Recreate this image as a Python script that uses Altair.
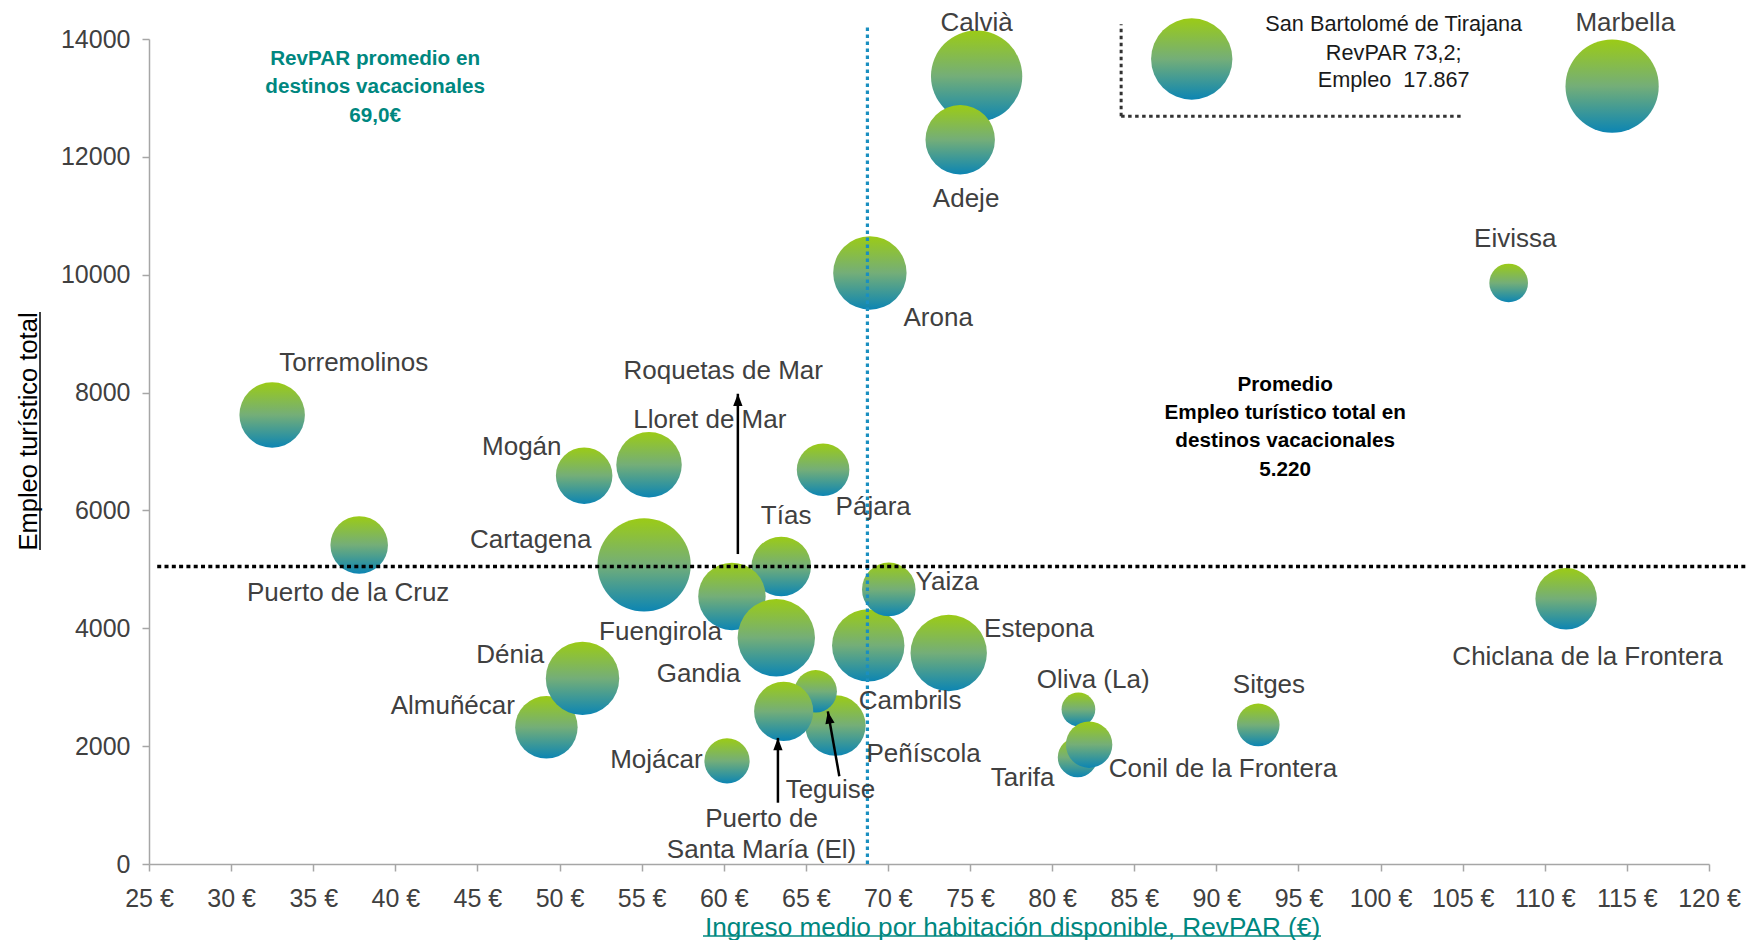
import altair as alt
import pandas as pd

# ---------------- datos ----------------
nombres = ["San Bartolomé de Tirajana", "Marbella", "Calvià", "Adeje", "Arona", "Eivissa",
           "Torremolinos", "Puerto de la Cruz", "Mogán", "Lloret de Mar", "Fuengirola",
           "Cartagena", "Tías", "Roquetas de Mar", "Gandia", "Pájara", "Cambrils", "Yaiza",
           "Estepona", "Peñíscola", "Teguise", "Puerto de\nSanta María (El)", "Mojácar",
           "Almuñécar", "Dénia", "Tarifa", "Oliva (La)", "Conil de la Frontera", "Sitges",
           "Chiclana de la Frontera"]
revpar = [88.5, 114.1, 75.4, 74.4, 68.9, 107.8,
          32.5, 37.8, 51.5, 55.45, 55.2,
          55.15, 63.5, 60.5, 63.2, 66.05, 68.8, 70.05,
          73.7, 66.8, 65.6, 63.65, 60.2,
          49.2, 51.4, 81.55, 81.6, 82.25, 92.55,
          111.3]
empleo = [13660, 13200, 13370, 12290, 10030, 9860,
          7620, 5415, 6590, 6775, 4950,
          5075, 5050, 4540, 3840, 6690, 3710, 4660,
          3580, 2350, 2930, 2590, 1750,
          2320, 3150, 1810, 2625, 2025, 2360,
          4500]
tamano = [16810, 22090, 21160, 12250, 13690, 3800,
          10890, 8410, 8120, 10890, 14000,
          22090, 9000, 11560, 15210, 7020, 13320, 7290,
          14820, 9300, 4580, 8880, 5200,
          9920, 13690, 4000, 2890, 5480, 4620,
          9610]

# posiciones de las etiquetas (en unidades de los ejes)
etiqueta_x = [None, 114.9, 75.4, 74.76, 73.06, 108.2,
              37.47, 37.13, 47.7, 59.15, 56.15,
              48.25, 63.8, 59.97, 58.47, 69.1, 71.35, 73.6,
              79.2, 72.17, 66.5, 62.3, 55.9,
              43.5, 47.0, 78.2, 82.5, 90.4, 93.2,
              112.6]
etiqueta_y = [None, 14265, 14265, 11280, 9270, 10600,
              8510, 4600, 7070, 7540, 3930,
              5490, 5910, 8360, 3230, 6060, 2770, 4790,
              3990, 1860, 1250, 760, 1770,
              2680, 3550, 1460, 3130, 1610, 3040,
              3510]

# flechas (origen -> punta)
flecha_x1 = [60.86, 63.3, 67.04]
flecha_y1 = [5260, 1040, 1490]
flecha_x2 = [60.86, 63.3, 66.34]
flecha_y2 = [7980, 2140, 2590]
flecha_ang = [0, 0, 350]

# líneas de referencia
promedio_empleo_linea = 5050
promedio_revpar_linea = 68.75

# anotaciones
revpar_texto = ["RevPAR promedio en", "destinos vacacionales", "69,0€"]
revpar_texto_y = [13660, 13180, 12690]
promedio_texto = ["Promedio", "Empleo turístico total en", "destinos vacacionales", "5.220"]
promedio_texto_y = [8130, 7660, 7180, 6690]
sbt_texto = ["San Bartolomé de Tirajana", "RevPAR 73,2;", "Empleo\u00a0 17.867"]
sbt_texto_y = [14250, 13770, 13300]

x_ticks = list(range(25, 121, 5))

# ---------------- tablas ----------------
burbujas = pd.DataFrame({"nombre": nombres, "revpar": revpar, "empleo": empleo, "tamano": tamano})
etiquetas = pd.DataFrame({"nombre": nombres[1:], "x": etiqueta_x[1:], "y": etiqueta_y[1:]})
flechas = pd.DataFrame({"x": flecha_x1, "y": flecha_y1, "x2": flecha_x2, "y2": flecha_y2, "ang": flecha_ang})
t_revpar = pd.DataFrame({"t": revpar_texto, "x": [38.77] * 3, "y": revpar_texto_y})
t_prom = pd.DataFrame({"t": promedio_texto, "x": [94.19] * 4, "y": promedio_texto_y})
t_sbt = pd.DataFrame({"t": sbt_texto, "x": [100.8] * 3, "y": sbt_texto_y})
lin_h = pd.DataFrame({"x": [25.5], "x2": [122.3], "y": [promedio_empleo_linea]})
lin_v = pd.DataFrame({"x": [promedio_revpar_linea], "y": [0], "y2": [14250]})
caja = pd.DataFrame({"x": [84.2, 84.2], "x2": [84.2, 104.9], "y": [12690, 12690], "y2": [14250, 12690]})

FONT = "Liberation Sans"
XT = "Ingreso medio por habitación disponible, RevPAR (€)"
YT = "Empleo turístico total"

x_scale = alt.Scale(domain=[25, 120], nice=False, zero=False)
y_scale = alt.Scale(domain=[0, 14000], nice=False, zero=False)

x_axis = alt.Axis(values=x_ticks, labelExpr="datum.value + ' €'", grid=False,
                  labelFont=FONT, labelFontSize=25, labelColor="#404040",
                  domainColor="#A6A6A6", tickColor="#A6A6A6", domainWidth=1.5, tickWidth=1.5,
                  tickSize=7, labelPadding=15, labelFlush=False, labelOverlap=False,
                  titleFont=FONT, titleFontSize=26.2, titleFontWeight="normal", titleColor="#00877F",
                  titleX=863, titleY=63, titleBaseline="middle", titleAnchor="middle")
y_axis = alt.Axis(values=list(range(0, 14001, 2000)), format="d", grid=False,
                  labelFont=FONT, labelFontSize=25, labelColor="#404040",
                  domainColor="#A6A6A6", tickColor="#A6A6A6", domainWidth=1.5, tickWidth=1.5,
                  tickSize=7, labelPadding=12, labelFlush=False,
                  titleFont=FONT, titleFontSize=25.5, titleFontWeight="normal", titleColor="#000000",
                  titleX=-121, titleY=392, titleBaseline="middle", titleAngle=270)


def X(f):
    return alt.X(f, type="quantitative", scale=x_scale, axis=x_axis, title=XT)


def Y(f):
    return alt.Y(f, type="quantitative", scale=y_scale, axis=y_axis, title=YT)


grad = alt.LinearGradient(
    gradient="linear",
    stops=[alt.GradientStop(color="#9BCB16", offset=0),
           alt.GradientStop(color="#74AE78", offset=0.5),
           alt.GradientStop(color="#0C85B3", offset=1)],
    x1=0, x2=0, y1=0, y2=1)

circ = alt.Chart(burbujas).mark_circle(fill=grad, opacity=1, fillOpacity=1, strokeWidth=0).encode(
    x=X("revpar"), y=Y("empleo"),
    size=alt.Size("tamano:Q", scale=alt.Scale(type="linear", domain=[0, 25000], range=[0, 9840]), legend=None),
)

etq = alt.Chart(etiquetas).mark_text(font=FONT, fontSize=26, color="#404040", align="center",
                                     baseline="middle", lineBreak="\n", lineHeight=31).encode(
    x=X("x"), y=Y("y"), text="nombre:N")

rule_h = alt.Chart(lin_h).mark_rule(color="#000000", strokeWidth=3.5, strokeDash=[4, 3.3]).encode(
    x=X("x"), x2="x2", y=Y("y"))
rule_v = alt.Chart(lin_v).mark_rule(color="#1A8FC0", strokeWidth=3.2, strokeDash=[3.5, 3.5]).encode(
    x=X("x"), y=Y("y"), y2="y2")
rule_caja = alt.Chart(caja).mark_rule(color="#333333", strokeWidth=3, strokeDash=[3.5, 3.5]).encode(
    x=X("x"), x2="x2", y=Y("y"), y2="y2")

ejes_f = alt.Chart(flechas).mark_rule(color="#000000", strokeWidth=2.5).encode(
    x=X("x"), y=Y("y"), x2="x2", y2="y2")
puntas = alt.Chart(flechas).mark_point(shape="M0,0L0.38,1L-0.38,1Z", filled=True, fill="#000000",
                                       opacity=1, strokeWidth=0, size=600).encode(
    x=X("x2"), y=Y("y2"), angle=alt.Angle("ang:Q", scale=None))

txt_revpar = alt.Chart(t_revpar).mark_text(font=FONT, fontSize=20.7, fontWeight="bold", color="#00877F",
                                           align="center", baseline="middle").encode(
    x=X("x"), y=Y("y"), text="t:N")
txt_prom = alt.Chart(t_prom).mark_text(font=FONT, fontSize=20.7, fontWeight="bold", color="#000000",
                                       align="center", baseline="middle").encode(
    x=X("x"), y=Y("y"), text="t:N")
txt_sbt = alt.Chart(t_sbt).mark_text(font=FONT, fontSize=21.7, color="#1A1A1A",
                                     align="center", baseline="middle").encode(
    x=X("x"), y=Y("y"), text="t:N")

# subrayados de los títulos de los ejes
sub_x = alt.Chart(lin_h).mark_rule(color="#00877F", strokeWidth=1.5).encode(
    x=alt.value(554), x2=alt.value(1172), y=alt.value(897))
sub_y = alt.Chart(lin_h).mark_rule(color="#000000", strokeWidth=1.5).encode(
    x=alt.value(-109), y=alt.value(273), y2=alt.value(511))

chart = alt.layer(
    circ, rule_v, rule_h, rule_caja, ejes_f, puntas, etq, txt_revpar, txt_prom, txt_sbt, sub_x, sub_y
).properties(
    width=1560, height=825,
    autosize=alt.AutoSizeParams(type="none"),
    padding={"left": 141, "top": 31, "right": 38, "bottom": 76},
    background="#ffffff",
).configure_view(stroke=None)

chart.save("out.html", embed_options={"renderer": "svg", "actions": False})
